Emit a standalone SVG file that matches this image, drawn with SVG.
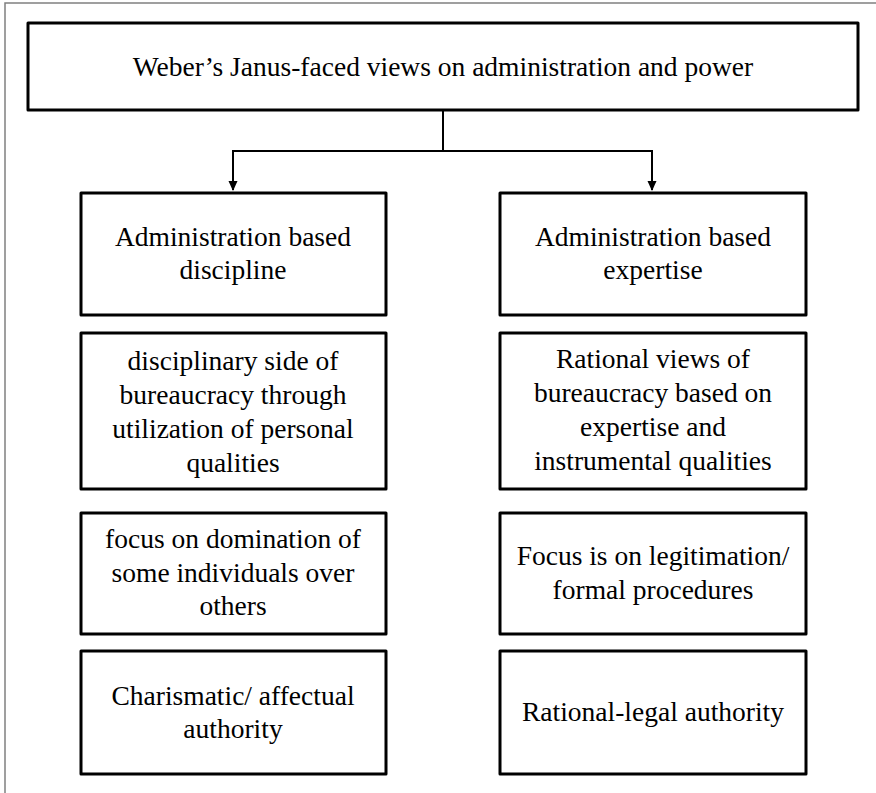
<svg xmlns="http://www.w3.org/2000/svg" width="876" height="793" viewBox="0 0 876 793">
<style>
.box{fill:#fff;stroke:#000;stroke-width:3;stroke-linejoin:round}
.t{font-size:27.5px;fill:#000;text-anchor:middle}
.c{fill:none;stroke:#000;stroke-width:2}
</style>
<defs>
<marker id="arr" markerWidth="10" markerHeight="10" refX="9" refY="5" orient="auto" markerUnits="userSpaceOnUse">
<path d="M0,0.5 L10,5 L0,9.5 Z" fill="#000"/>
</marker>
</defs>
<rect width="876" height="793" fill="#fff"/>
<path d="M5,793 V3 H876" fill="none" stroke="#808080" stroke-width="1.5"/>
<g id="connectors">
<path class="c" d="M443,110 V151"/>
<path class="c" d="M233,151 H652"/>
<path class="c" d="M233,150 V190" marker-end="url(#arr)"/>
<path class="c" d="M652,150 V190" marker-end="url(#arr)"/>
</g>
<g id="title" font-family="Times New Roman">
<rect class="box" x="28" y="23" width="830" height="87"/>
<text class="t" x="443" y="76">Weber’s Janus-faced views on administration and power</text>
</g>
<g id="left1" font-family="Times New Roman">
<rect class="box" x="81" y="193" width="305" height="122"/>
<text class="t" x="233" y="246">Administration based</text>
<text class="t" x="233" y="279">discipline</text>
</g>
<g id="right1" font-family="Times New Roman">
<rect class="box" x="500" y="193" width="306" height="122"/>
<text class="t" x="653" y="246">Administration based</text>
<text class="t" x="653" y="279">expertise</text>
</g>
<g id="left2" font-family="Times New Roman">
<rect class="box" x="81" y="333" width="305" height="156"/>
<text class="t" x="233" y="370">disciplinary side of</text>
<text class="t" x="233" y="404">bureaucracy through</text>
<text class="t" x="233" y="438">utilization of personal</text>
<text class="t" x="233" y="472">qualities</text>
</g>
<g id="right2" font-family="Times New Roman">
<rect class="box" x="500" y="333" width="306" height="156"/>
<text class="t" x="653" y="368">Rational views of</text>
<text class="t" x="653" y="402">bureaucracy based on</text>
<text class="t" x="653" y="436">expertise and</text>
<text class="t" x="653" y="470">instrumental qualities</text>
</g>
<g id="left3" font-family="Times New Roman">
<rect class="box" x="81" y="513" width="305" height="121"/>
<text class="t" x="233" y="548">focus on domination of</text>
<text class="t" x="233" y="582">some individuals over</text>
<text class="t" x="233" y="615">others</text>
</g>
<g id="right3" font-family="Times New Roman">
<rect class="box" x="500" y="513" width="306" height="121"/>
<text class="t" x="653" y="565">Focus is on legitimation/</text>
<text class="t" x="653" y="599">formal procedures</text>
</g>
<g id="left4" font-family="Times New Roman">
<rect class="box" x="81" y="651" width="305" height="123"/>
<text class="t" x="233" y="705">Charismatic/ affectual</text>
<text class="t" x="233" y="738">authority</text>
</g>
<g id="right4" font-family="Times New Roman">
<rect class="box" x="500" y="651" width="306" height="123"/>
<text class="t" x="653" y="721">Rational-legal authority</text>
</g>
</svg>
